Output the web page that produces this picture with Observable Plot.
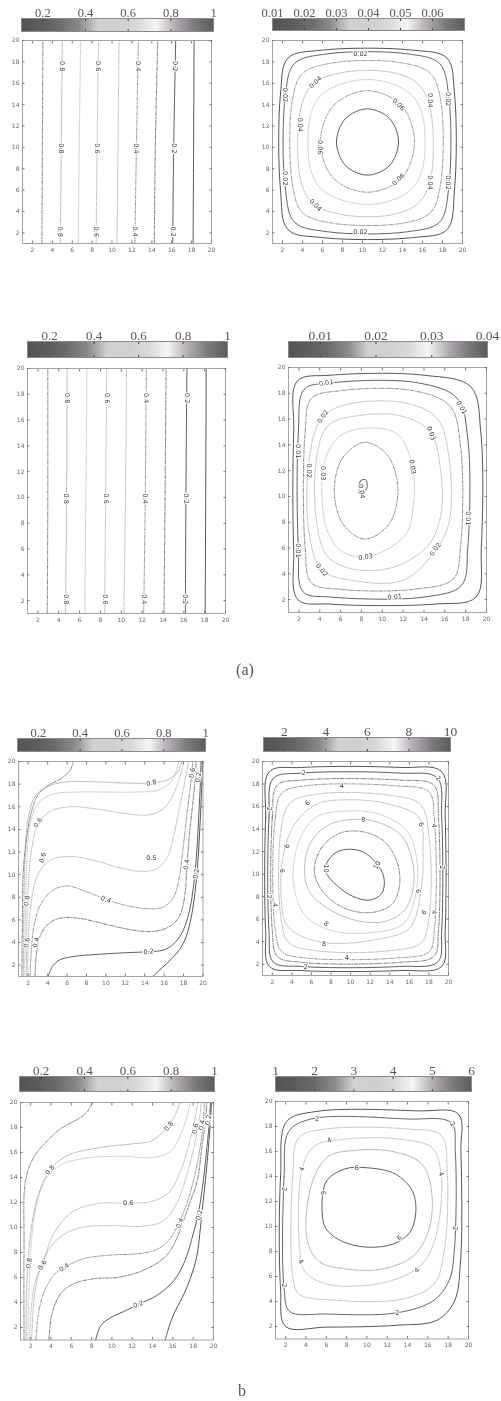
<!DOCTYPE html>
<html><head><meta charset="utf-8">
<script src="https://cdn.jsdelivr.net/npm/d3@7"></script>
<script src="https://cdn.jsdelivr.net/npm/@observablehq/plot@0.6"></script>
<style>
html,body{margin:0;padding:0;background:#fff}
body{width:501px;height:1401px;position:relative;overflow:hidden}
.cap{position:absolute;font-family:"Liberation Serif","DejaVu Serif",serif;font-size:16px;color:#555;transform:translateX(-50%);filter:grayscale(1)}
.gray{filter:grayscale(1)}
</style></head>
<body>
<script>
// ---------- shared data ----------
const axisTicks = [2,4,6,8,10,12,14,16,18,20];
const cmapStops = ["#565156","#5e5c5e","#6c6c6c","#8a8a8a","#d2d2d2","#cfcfcf","#d8d8d8","#f6f6f6","#b4adb4","#7d7a7e","#5a5e5a"];

// ---------- panel 1 (top-left) ----------
const p1Domain = [0.1, 1];
const p1Ticks = [0.2, 0.4, 0.6, 0.8, 1];
const p1Levels = [0.9, 0.8, 0.7, 0.6, 0.5, 0.4, 0.3, 0.2, 0.1];
const p1Lines = [
  [2.95,1, 3.0,10, 3.05,20],
  [4.8,1, 4.9,10, 5.0,20],
  [6.6,1, 6.7,10, 6.85,20],
  [8.4,1, 8.5,10, 8.65,20],
  [10.5,1, 10.6,10, 10.7,20],
  [12.3,1, 12.45,10, 12.65,20],
  [14.25,1, 14.35,10, 14.6,20],
  [16.1,1, 16.2,10, 16.4,20],
  [18.15,1, 18.2,10, 18.25,20]
];
const p1Labels = [
  [4.98,17.6,"0.8",90],[8.62,17.6,"0.6",90],[12.6,17.6,"0.4",90],[16.36,17.6,"0.2",90],
  [4.9,9.9,"0.8",90],[8.5,9.9,"0.6",90],[12.45,9.9,"0.4",90],[16.2,9.9,"0.2",90],
  [4.82,2.1,"0.8",90],[8.42,2.1,"0.6",90],[12.32,2.1,"0.4",90],[16.12,2.1,"0.2",90]
];

// ---------- panel 2 (top-right) ----------
const p2Domain = [0.01, 0.07];
const p2Ticks = [0.01, 0.02, 0.03, 0.04, 0.05, 0.06];
const p2Levels = [0.01, 0.02, 0.03, 0.04, 0.05, 0.06, 0.07];
const p2Rings = [
  [1.8,6, 1.8,15, 2.55,18.35, 6,19.1, 15,19.1, 18.45,18.35, 19.2,15, 19.2,6, 18.45,2.3, 15,1.55, 6,1.55, 2.55,2.3],
  [2.3,6, 2.3,15, 3.2,17.85, 6.5,18.75, 14.5,18.75, 17.7,17.85, 18.6,15, 18.6,6, 17.7,3.0, 14.5,2.1, 6.5,2.1, 3.2,3.0],
  [3.0,6.5, 3.0,14.5, 4.0,16.9, 7,17.9, 14,17.9, 16.8,16.9, 17.8,14.5, 17.8,6.5, 16.8,3.9, 14,2.9, 7,2.9, 4.0,3.9],
  [3.8,7, 3.8,13.5, 5.0,15.9, 8,17.0, 13,17.0, 15.6,15.9, 16.8,13.5, 16.8,7, 15.6,4.8, 13,3.7, 8,3.7, 5.0,4.8],
  [4.8,8, 4.8,13, 6.0,15.0, 9,16.2, 12,16.2, 14.8,15.0, 16.0,13, 16.0,8, 14.8,6.0, 12,4.8, 9,4.8, 6.0,6.0],
  [5.8,10.5, 7.1,13.9, 10.5,15.3, 13.9,13.9, 15.2,10.5, 13.9,7.1, 10.5,5.8, 7.1,7.1],
  [7.4,10.5, 8.3,12.7, 10.5,13.6, 12.7,12.7, 13.6,10.5, 12.7,8.3, 10.5,7.4, 8.3,8.3]
];
const p2Labels = [
  [9.8,18.75,"0.02",0],[9.8,2.1,"0.02",0],[2.3,14.9,"0.02",90],[2.3,7.1,"0.02",90],[18.6,14.5,"0.02",90],[18.6,6.7,"0.02",90],
  [3.8,12.1,"0.04",90],[5.3,16.1,"0.04",-45],[5.3,4.6,"0.04",45],[16.8,14.4,"0.04",90],[16.8,6.7,"0.04",90],
  [5.8,10.0,"0.06",90],[13.6,14.0,"0.06",45],[13.6,7.0,"0.06",-45]
];

// ---------- panel 3 (second row left) ----------
const p3Domain = [0.1, 1];
const p3Ticks = [0.2, 0.4, 0.6, 0.8, 1];
const p3Levels = [0.9, 0.8, 0.7, 0.6, 0.5, 0.4, 0.3, 0.2, 0.1];
const p3Lines = [
  [2.9,1, 2.95,10, 2.95,20],
  [4.65,1, 4.75,10, 4.8,20],
  [6.5,1, 6.6,10, 6.7,20],
  [8.4,1, 8.5,10, 8.6,20],
  [10.25,1, 10.4,10, 10.5,20],
  [12.15,1, 12.3,10, 12.4,20],
  [14.1,1, 14.2,10, 14.3,20],
  [16.15,1, 16.2,10, 16.3,20],
  [18.05,1, 18.1,10, 18.15,20]
];
const p3Labels = [
  [4.8,17.7,"0.8",90],[8.6,17.7,"0.6",90],[12.4,17.7,"0.4",90],[16.3,17.7,"0.2",90],
  [4.75,9.9,"0.8",90],[8.5,9.9,"0.6",90],[12.3,9.9,"0.4",90],[16.2,9.9,"0.2",90],
  [4.66,2.1,"0.8",90],[8.41,2.1,"0.6",90],[12.17,2.1,"0.4",90],[16.16,2.1,"0.2",90]
];

// ---------- panel 4 (second row right) ----------
const p4Domain = [0.0043, 0.04];
const p4Ticks = [0.01, 0.02, 0.03, 0.04];
const p4Levels = [0.005, 0.01, 0.015, 0.02, 0.025, 0.03, 0.035, 0.04];
const p4Rings = [
  [1.5,6, 1.5,15, 1.85,18.95, 5,19.4, 14,19.4, 18.5,18.5, 19.45,15, 19.5,6, 19.0,2.2, 15,1.65, 5,1.65, 1.9,2.0],
  [1.95,6, 1.95,15, 2.5,18.3, 5,18.8, 13.5,18.8, 17.2,17.6, 18.2,14.5, 18.2,6, 17.6,3.1, 14,2.2, 5,2.2, 2.4,2.6],
  [2.6,6, 2.6,15, 3.2,17.6, 6,18.2, 13,18.2, 16.5,17.0, 17.5,14, 17.5,6, 16.8,3.6, 13,2.8, 6,2.8, 3.2,3.3],
  [3.0,7, 3.0,13, 4.3,16.2, 7,17.2, 12.5,17.2, 15.3,16.0, 16.4,13, 16.4,8, 15.1,5.8, 12,3.5, 7,3.5, 4.2,4.3],
  [3.7,8, 3.7,13, 4.8,15.5, 8,16.3, 12,16.2, 14.6,15.0, 15.6,12, 15.6,8.5, 14.4,6.2, 11,4.5, 7,4.4, 4.7,5.4],
  [4.3,9, 4.4,12.5, 5.8,14.6, 8.5,15.3, 11.5,14.8, 12.9,12.3, 13.0,9.5, 12.2,7.0, 8.4,5.3, 6.0,5.8, 4.8,7.2],
  [5.4,10.5, 6.2,13.0, 8.3,14.2, 10.5,13.2, 11.5,10.5, 10.6,7.8, 8.3,6.7, 6.2,7.9],
  [7.8,10.2, 7.9,11.2, 8.4,11.3, 8.5,10.6]
];
const p4Labels = [
  [4.6,18.8,"0.01",-8],[1.95,13.5,"0.01",90],[17.6,16.9,"0.01",60],[18.2,8.3,"0.01",90],[1.95,5.8,"0.01",90],[11.2,2.2,"0.01",-5],
  [4.3,16.2,"0.02",-55],[3.0,12.0,"0.02",90],[4.2,4.3,"0.02",50],[15.1,5.9,"0.02",-55],
  [4.35,11.8,"0.03",90],[8.4,5.3,"0.03",-10],[14.7,14.9,"0.03",70],[12.9,12.3,"0.03",80],
  [8.0,10.4,"0.04",80]
];

// ---------- panel 5 (third row left) ----------
const p5Domain = [0.1, 1];
const p5Ticks = [0.2, 0.4, 0.6, 0.8, 1];
const p5Levels = [0.1, 0.2, 0.3, 0.4, 0.5, 0.6, 0.7, 0.8, 0.9];
const p5Lines = [
  [14.8,1, 15.7,1.7, 16.8,2.6, 17.6,3.4, 18.3,4.6, 18.8,6.3, 19.2,8.6, 19.5,11.5, 19.7,14.5, 19.85,17.5, 19.95,20],
  [4.05,1, 4.5,1.9, 5.2,2.45, 6.5,2.75, 9,2.95, 12,3.1, 14.5,3.2, 16,3.35, 17,3.9, 17.8,4.8, 18.4,6.1, 18.85,7.9, 19.15,10, 19.4,12.5, 19.55,15, 19.7,17.5, 19.8,20],
  [2.7,1, 2.85,3, 3.2,4.5, 3.8,5.4, 4.7,6.0, 5.8,6.2, 7.2,6.15, 8.9,5.85, 11.3,5.35, 13.7,5.0, 15.4,5.05, 16.8,5.55, 17.6,6.4, 18.1,8.0, 18.35,10.75, 18.6,13.6, 18.95,16.3, 19.2,18.6, 19.3,20],
  [2.2,1, 2.3,3, 2.6,5.5, 3.3,7.4, 4.5,8.6, 6,9.0, 8,8.5, 10,7.8, 12,7.3, 14,7.0, 15.8,7.1, 16.9,7.9, 17.5,9.5, 17.9,12, 18.3,15, 18.7,17.8, 18.95,20],
  [1.95,1, 2.0,4, 2.3,7.5, 3.0,10, 4.3,11.3, 6.5,11.6, 9,11.2, 11.5,10.6, 13.5,10.3, 15.2,10.5, 16.3,11.5, 17,13.5, 17.6,16, 18.2,18.5, 18.5,20],
  [1.8,1, 1.85,5, 2.0,9, 2.4,12.5, 3.1,14.6, 4.3,15.6, 6.3,16.0, 9,15.8, 12,15.4, 14.5,15.3, 16,15.9, 17,17.2, 17.7,18.9, 18.0,20],
  [1.65,1, 1.7,6, 1.85,11, 2.2,14.5, 3.0,16.3, 4.5,17.1, 7,17.3, 10,17.3, 13,17.3, 15.5,17.5, 16.8,18.3, 17.5,20],
  [1.5,1, 1.55,7, 1.7,12, 2.0,15, 2.7,16.9, 4,17.8, 6,18.2, 9,18.2, 12,18.1, 14.7,18.1, 16.4,18.4, 17.4,19.1, 17.8,20],
  [1.35,1, 1.4,6, 1.5,10.4, 1.85,13.3, 2.35,15.6, 3.05,17.1, 4.1,17.9, 5.4,18.5, 6.3,19.2, 6.65,20]
];
const p5Labels = [
  [1.85,7.7,"0.8",-80],[1.85,4.0,"0.6",-80],[2.8,4.0,"0.4",-75],[3.0,14.6,"0.6",-55],[3.5,11.5,"0.6",-75],
  [10.0,7.8,"0.4",20],[14.7,11.5,"0.5",0],[14.4,3.2,"0.2",-5],[14.7,18.1,"0.8",-15],
  [18.3,10.9,"0.4",-80],[19.3,10.1,"0.2",-80],[18.9,19.0,"0.6",-80],[19.5,18.6,"0.2",-80]
];

// ---------- panel 6 (third row right) ----------
const p6Domain = [1, 10];
const p6Ticks = [2, 4, 6, 8, 10];
const p6Levels = [1, 2, 3, 4, 5, 6, 7, 8, 9, 10];
const p6Rings = [
  [1.32,5, 1.32,15, 1.7,19.1, 5,19.47, 15,19.47, 19.3,19.1, 19.66,15, 19.66,5, 19.3,1.8, 15,1.44, 5,1.44, 1.7,1.8],
  [1.66,5, 1.66,15, 2.1,18.5, 5,18.97, 15,18.97, 18.85,18.55, 19.3,15, 19.3,5, 18.9,2.2, 15,1.8, 5,1.8, 2.1,2.2],
  [2.0,5, 2.0,15, 2.5,17.9, 5,18.35, 15,18.35, 18.5,17.9, 18.98,15, 18.98,5, 18.5,2.7, 15,2.17, 5,2.17, 2.5,2.7],
  [2.3,5, 2.3,15, 3.0,17.2, 5.5,17.85, 14.5,17.85, 18.0,17.3, 18.55,15, 18.55,5, 18.0,3.1, 14.5,2.55, 5.5,2.55, 3.0,3.1],
  [2.9,6, 2.9,14, 3.8,16.3, 6.5,17.1, 14,17.0, 17.1,16.2, 18.0,13.5, 18.0,6, 17.2,3.9, 14,3.2, 6.5,3.2, 3.7,3.9],
  [3.0,7, 3.0,11, 4.2,14.3, 6.5,16.2, 10,16.6, 14,16.2, 17.0,15.0, 17.4,12, 17.1,8, 16,5.2, 12,4.1, 7.5,3.9, 4.5,4.7, 3.4,5.6],
  [4.2,9, 4.6,12.6, 6.4,15.0, 9.5,15.6, 13,15.3, 15.8,13.8, 16.8,11, 16.6,8, 15.4,5.6, 12,4.8, 8,5.0, 5.4,6.3],
  [5.3,10, 5.8,12.6, 7.6,14.3, 10,14.85, 12.8,14.6, 15.2,13.4, 16.3,11.2, 16.4,8.8, 15.5,6.8, 13.5,5.8, 10.5,5.9, 7.6,7.0, 5.9,8.3],
  [6.3,10.2, 7.0,12.3, 8.8,13.6, 11,13.8, 13.3,13.0, 14.7,11.2, 15.0,9.0, 14.2,7.3, 12.2,6.6, 9.6,6.9, 7.3,8.3],
  [7.4,10.4, 8.3,11.8, 9.6,12.2, 11.2,12.0, 12.6,11.0, 13.4,9.7, 13.2,8.3, 12.0,7.7, 10.6,7.9, 9.0,8.7]
];
const p6Labels = [
  [5.2,18.97,"2",0],[5.4,1.8,"2",0],[18.95,18.5,"2",45],[19.3,10.6,"2",90],[1.66,15.8,"2",90],[1.66,8.0,"2",90],
  [9.1,17.85,"4",0],[9.6,2.55,"4",0],[2.3,7.25,"4",90],[18.55,14.3,"4",90],[18.55,6.6,"4",90],
  [5.6,16.3,"6",-40],[3.5,12.5,"6",-70],[3.0,10.3,"6",90],[17.2,14.4,"6",60],[16.9,8.5,"6",90],[17.5,6.6,"6",-50],
  [11.3,14.85,"8",5],[7.5,5.6,"8",40],[7.3,3.8,"8",0],
  [7.45,10.5,"10",90],[12.7,10.8,"10",-60]
];

// ---------- panel 7 (bottom-left) ----------
const p7Domain = [0.1, 1];
const p7Ticks = [0.2, 0.4, 0.6, 0.8, 1];
const p7Levels = [0.1, 0.2, 0.3, 0.4, 0.5, 0.6, 0.7, 0.8, 0.9];
const p7Lines = [
  [15.25,1, 15.6,2, 16.1,3.1, 16.8,4.2, 17.4,5.25, 18.0,6.6, 18.4,7.9, 18.85,11.1, 19.2,13.75, 19.5,16.4, 19.7,18.5, 19.8,20],
  [8.4,1, 8.9,2.15, 9.9,2.8, 11.5,3.4, 12.6,3.85, 14.4,4.55, 16.1,5.75, 17.2,7.35, 18.0,9.5, 18.5,11.1, 19.0,13.75, 19.35,16.4, 19.6,18.5, 19.7,20],
  [3.8,1, 4.1,3.1, 4.95,4.7, 6.25,5.5, 8.2,5.9, 10.5,6.0, 12.15,6.3, 13.45,6.7, 14.8,7.35, 15.75,8.15, 16.7,9.75, 17.5,11.6, 18.4,13.75, 18.85,16.4, 19.2,18.5, 19.35,20],
  [2.5,1, 2.75,3, 3.3,4.8, 4.3,6.2, 5.3,6.8, 7.2,7.5, 10,7.8, 12.5,7.9, 14.3,8.2, 15.5,8.9, 16.5,10.2, 17.4,12, 18.2,14.3, 18.7,16.5, 19.0,18.5, 19.1,20],
  [2.1,1, 2.25,3.5, 2.7,6, 3.6,8, 5,9.3, 7,10.0, 10,10.15, 13,10.1, 15,10.5, 16.3,11.8, 17.3,14, 18.1,16.5, 18.6,18.6, 18.8,20],
  [1.9,1, 2.05,3.5, 2.5,5.8, 3.15,7.0, 4.2,9.4, 6,11.2, 8.5,11.9, 11.6,11.95, 14,12.1, 15.6,12.8, 16.8,14.6, 17.7,17, 18.3,19.2, 18.45,20],
  [1.7,1, 1.8,4, 2.0,8, 2.5,11.5, 3.5,13.9, 5.2,15.1, 8,15.6, 11,15.7, 14,15.6, 15.8,16.1, 16.8,17.5, 17.5,19.2, 17.7,20],
  [1.55,1, 1.6,5, 1.85,8.5, 2.3,11.1, 2.9,12.95, 3.9,14.6, 5.6,15.75, 8.9,16.4, 12.1,16.7, 13.8,16.9, 15.1,17.7, 16.1,18.8, 16.7,20],
  [1.35,1, 1.35,8.5, 1.5,13.75, 2.3,15.6, 3.65,16.95, 4.95,17.9, 6.9,18.8, 7.6,19.3, 8.1,20]
];
const p7Labels = [
  [1.85,7.15,"0.8",-80],[3.15,7.0,"0.6",-60],[5.3,6.8,"0.4",-30],[3.9,14.6,"0.8",-50],
  [11.6,11.95,"0.6",0],[15.6,18.1,"0.8",-50],[16.7,10.35,"0.4",-65],[18.6,11.0,"0.2",-75],
  [12.6,3.85,"0.2",-20],[18.2,17.9,"0.6",-80],[18.85,18.2,"0.4",-80],[19.5,18.6,"0.2",-80]
];

// ---------- panel 8 (bottom-right) ----------
const p8Domain = [1, 6];
const p8Ticks = [1, 2, 3, 4, 5, 6];
const p8Levels = [1, 2, 3, 4, 5, 6];
const p8Rings = [
  [1.5,5, 1.5,14, 2.1,18.4, 5,19.2, 15,19.25, 19.0,19.0, 19.25,16, 19.2,7, 18.6,4.0, 16.9,2.5, 13,2.1, 6,1.95, 2.0,2.0],
  [1.85,5, 1.85,14, 2.3,17.6, 4.5,18.6, 14,18.6, 18.3,18.3, 18.7,16, 18.6,8, 18.1,5.7, 16.6,4.1, 13,3.1, 6,3.0, 2.4,3.2],
  [2.7,6, 2.7,14, 3.3,17.1, 6,17.8, 14,17.8, 17.3,17.3, 17.9,14.5, 17.6,8, 16.6,5.4, 13.5,4.2, 7,4.1, 3.3,4.6],
  [3.4,8, 3.6,14.5, 4.8,16.4, 8,17.0, 13,17.0, 16.4,16.3, 17.3,14.2, 17.0,10, 16.0,7.6, 14.5,6.4, 11,5.4, 6,5.4, 3.9,6.4],
  [4.1,9, 4.6,13.5, 6.2,15.6, 9,16.1, 12.5,16.0, 15.4,15.0, 16.4,12.5, 16.0,9.5, 14.5,7.6, 11.5,6.6, 8,6.6, 5.3,7.2],
  [5.6,11, 6.0,13.6, 7.8,14.6, 10,14.7, 12.8,14.2, 14.5,12.8, 14.8,11, 14.2,9.5, 12.6,8.6, 10,8.35, 7.6,8.8, 6.0,9.8]
];
const p8Labels = [
  [5.1,18.6,"2",0],[1.85,13.0,"2",90],[1.85,5.3,"2",90],[13.0,3.1,"2",-5],[18.45,18.2,"2",50],[18.65,9.85,"2",90],
  [6.3,16.9,"4",-20],[3.6,14.6,"4",-70],[3.5,7.2,"4",60],[17.3,14.2,"4",70],[14.9,6.5,"4",-40],
  [9.0,14.7,"6",0],[5.7,12.7,"6",90],[13.2,9.1,"6",-45]
];

// ---------- layout (page pixels) ----------
const layout = [
  {frame:[21.5,210.5,40,243], bar:[21,213,18,31], font:12.5, dom:p1Domain, ticks:p1Ticks, fmt:d=>String(d), levels:p1Levels, lines:p1Lines, closed:false, labels:p1Labels},
  {frame:[272,462,40,243], bar:[272,464,18,30], font:12.5, dom:p2Domain, ticks:p2Ticks, fmt:d=>d.toFixed(2), levels:p2Levels, lines:p2Rings, closed:true, labels:p2Labels},
  {frame:[27,225,368,613], bar:[27,227,341,357], font:13, dom:p3Domain, ticks:p3Ticks, fmt:d=>String(d), levels:p3Levels, lines:p3Lines, closed:false, labels:p3Labels},
  {frame:[288,486,367,612], bar:[288,487,341,357], font:13.5, dom:p4Domain, ticks:p4Ticks, fmt:d=>d.toFixed(2), levels:p4Levels, lines:p4Rings, closed:true, labels:p4Labels},
  {frame:[17.5,202,761,976], bar:[17,205,738,751], font:12.5, dom:p5Domain, ticks:p5Ticks, fmt:d=>String(d), levels:p5Levels, lines:p5Lines, closed:false, labels:p5Labels},
  {frame:[262,448,761,975], bar:[263,450,737,751], font:13.5, dom:p6Domain, ticks:p6Ticks, fmt:d=>String(d), levels:p6Levels, lines:p6Rings, closed:true, labels:p6Labels},
  {frame:[20,213,1102,1339.5], bar:[19,214,1076,1091], font:13, dom:p7Domain, ticks:p7Ticks, fmt:d=>String(d), levels:p7Levels, lines:p7Lines, closed:false, labels:p7Labels},
  {frame:[275,468,1101,1338.5], bar:[275,471,1076,1091], font:13.5, dom:p8Domain, ticks:p8Ticks, fmt:d=>String(d), levels:p8Levels, lines:p8Rings, closed:true, labels:p8Labels}
];

// ---------- drawing ----------
const cmap = d3.piecewise(d3.interpolateRgb, cmapStops);
const toPts = flat => d3.range(0, flat.length, 2).map(i => ({x: flat[i], y: flat[i + 1]}));

function place(el, left, top, gray) {
  el.style.position = "absolute";
  el.style.left = left + "px";
  el.style.top = top + "px";
  el.style.overflow = "visible";
  if (gray) el.classList.add("gray");
  document.body.appendChild(el);
}

function drawPanel(c) {
  const [bL, bR, bT, bB] = c.bar;
  const mL = 24, mR = 24, mT = 18, mB = 3;
  const barSize = {
    width: bR - bL + mL + mR, height: bB - bT + mT + mB,
    marginLeft: mL, marginRight: mR, marginTop: mT, marginBottom: mB
  };
  const rampMark = Plot.raster
    ? Plot.raster({x1: c.dom[0], x2: c.dom[1], y1: 0, y2: 1, width: 256, height: 1, fill: (x, y) => x, imageRendering: "auto"})
    : Plot.rect(d3.range(256).map(i => c.dom[0] + (c.dom[1] - c.dom[0]) * i / 256),
        {x1: d => d, x2: d => d + (c.dom[1] - c.dom[0]) / 250, y1: 0, y2: 1, fill: d => d});
  // colour ramp (keeps the print tint)
  const ramp = Plot.plot({
    ...barSize,
    x: {domain: c.dom, axis: null}, y: {domain: [0, 1], axis: null},
    color: {type: "linear", domain: c.dom, interpolate: t => cmap(t)},
    style: {background: "transparent"},
    marks: [rampMark]
  });
  place(ramp, bL - mL, bT - mT, false);
  // ticks, labels and border of the colour bar
  const barAxes = Plot.plot({
    ...barSize,
    x: {domain: c.dom}, y: {domain: [0, 1], axis: null},
    style: {fontFamily: "'Liberation Serif','DejaVu Serif',serif", fontSize: c.font + "px", color: "#555", background: "transparent"},
    marks: [
      Plot.axisX({anchor: "top", ticks: c.ticks, tickSize: 0, tickPadding: 2, tickFormat: c.fmt, label: null}),
      Plot.axisX({anchor: "top", ticks: c.ticks, tickSize: -2, tickFormat: () => "", label: null, stroke: "#444"}),
      Plot.axisX({anchor: "bottom", ticks: c.ticks, tickSize: -2, tickFormat: () => "", label: null, stroke: "#444"}),
      Plot.frame({stroke: "#8a8a8a"})
    ]
  });
  place(barAxes, bL - mL, bT - mT, true);

  const [L, R, T, B] = c.frame;
  const pl = 20, pr = 10, pt = 6, pb = 14;
  const tOf = v => Math.max(0, Math.min(1, (v - c.dom[0]) / (c.dom[1] - c.dom[0])));
  const lineMarks = c.lines.map((flat, i) => {
    const base = cmap(tOf(c.levels[i]));
    const lum = d3.hsl(base).l;
    const stroke = d3.interpolateRgb(base, "#111")(0.25);
    const dash = lum < 0.45 ? null : lum < 0.68 ? "3.5,1.5,1,1.5" : "1,1.3";
    return Plot.line(toPts(flat), {
      x: "x", y: "y",
      curve: c.closed ? "catmull-rom-closed" : "catmull-rom",
      stroke, strokeWidth: lum < 0.45 ? 0.9 : 0.8, strokeDasharray: dash
    });
  });
  const fig = Plot.plot({
    width: R - L + pl + pr, height: B - T + pt + pb,
    marginLeft: pl, marginRight: pr, marginTop: pt, marginBottom: pb,
    x: {domain: [1, 20]}, y: {domain: [1, 20]},
    style: {fontFamily: "'DejaVu Sans',sans-serif", fontSize: "6px", color: "#666", background: "transparent"},
    marks: [
      ...lineMarks,
      Plot.text(c.labels, {x: d => d[0], y: d => d[1], text: d => d[2], rotate: d => d[3],
        fontSize: 6.5, fill: "#3a3a3a", stroke: "white", strokeWidth: 2.2}),
      Plot.frame({stroke: "#9a9a9a", strokeWidth: 0.9}),
      Plot.axisX({anchor: "bottom", ticks: axisTicks, tickSize: -2.5, tickPadding: 6.5, label: null, stroke: "#777"}),
      Plot.axisX({anchor: "top", ticks: axisTicks, tickSize: -2.5, tickFormat: () => "", label: null, stroke: "#777"}),
      Plot.axisY({anchor: "left", ticks: axisTicks, tickSize: -2.5, tickPadding: 5.5, label: null, stroke: "#777"}),
      Plot.axisY({anchor: "right", ticks: axisTicks, tickSize: -2.5, tickFormat: () => "", label: null, stroke: "#777"})
    ]
  });
  place(fig, L - pl, T - pt, true);
}

layout.forEach(drawPanel);

const capA = document.createElement("div");
capA.className = "cap"; capA.textContent = "(a)";
capA.style.left = "245px"; capA.style.top = "661px";
document.body.appendChild(capA);
const capB = document.createElement("div");
capB.className = "cap"; capB.textContent = "b";
capB.style.left = "242px"; capB.style.top = "1382px";
document.body.appendChild(capB);
</script>
</body></html>
